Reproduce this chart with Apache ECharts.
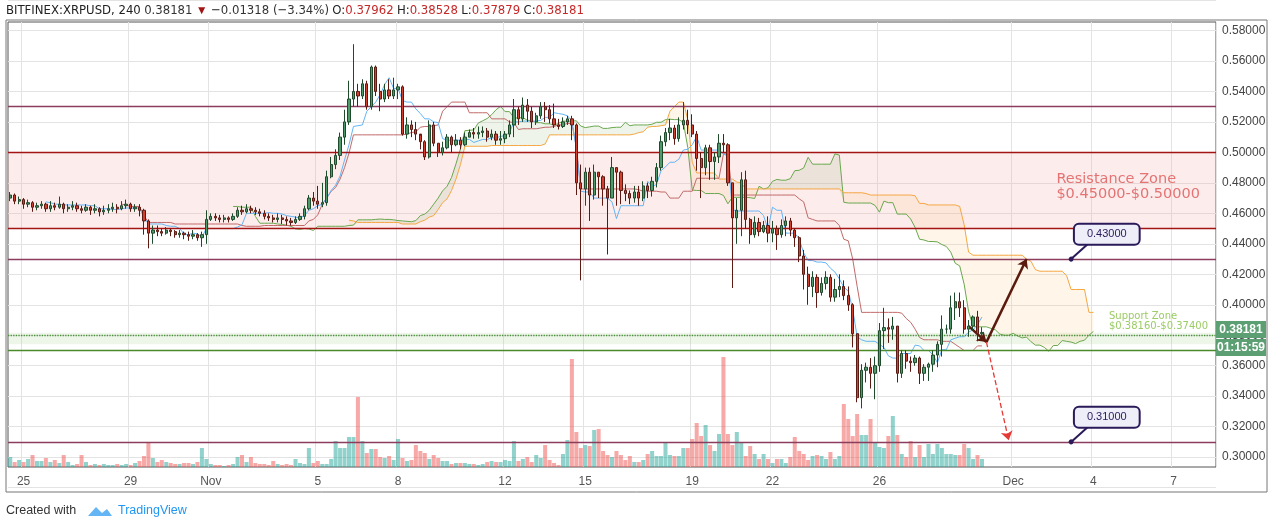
<!DOCTYPE html>
<html>
<head>
<meta charset="utf-8">
<script src="https://cdn.jsdelivr.net/npm/echarts@6/dist/echarts.min.js"></script>
<style>
  html, body { margin: 0; padding: 0; background: #fff; }
  #chart { width: 1274px; height: 529px; }
</style>
</head>
<body>
<div id="chart"></div>
<script>
// 4h candles, BITFINEX:XRPUSD, first bar Oct 24 12:00 UTC
var startTime = Date.UTC(2018, 9, 24, 12);
var totalBars = 271;
var shownDays = ['10-25', '10-29', '11-1', '11-5', '11-8', '11-12', '11-15', '11-19', '11-22', '11-26', '12-1', '12-4', '12-7'];
var firstOpen = 0.470;

var closes = [
  0.472, 0.468, 0.469,
  0.466, 0.467, 0.464, 0.465, 0.466, 0.463,
  0.465, 0.464, 0.466, 0.463, 0.464, 0.465,
  0.463, 0.462, 0.464, 0.462, 0.463, 0.461,
  0.462, 0.463, 0.464, 0.463, 0.465, 0.466,
  0.463, 0.464, 0.462, 0.455, 0.447, 0.449,
  0.448, 0.447, 0.449, 0.448, 0.446, 0.447,
  0.446, 0.445, 0.446, 0.444, 0.446, 0.456,
  0.458, 0.457, 0.456, 0.457, 0.456, 0.458,
  0.462, 0.461, 0.463, 0.462, 0.461, 0.460,
  0.458, 0.457, 0.456, 0.457, 0.456, 0.455,
  0.454, 0.456, 0.458, 0.463, 0.470, 0.468,
  0.466, 0.467, 0.484, 0.492, 0.498, 0.510,
  0.520, 0.535, 0.540, 0.537, 0.545, 0.530,
  0.556, 0.540, 0.535, 0.541, 0.537, 0.541,
  0.543, 0.512, 0.518, 0.515, 0.512, 0.507,
  0.497, 0.518, 0.506, 0.500, 0.503, 0.510,
  0.505, 0.508, 0.505, 0.510, 0.513, 0.512,
  0.513, 0.514, 0.510, 0.512, 0.508, 0.509,
  0.512, 0.518, 0.528, 0.522, 0.531, 0.527,
  0.520, 0.524, 0.530, 0.528, 0.522, 0.518,
  0.517, 0.520, 0.522, 0.518, 0.480, 0.476,
  0.487, 0.472, 0.487, 0.484, 0.476, 0.470,
  0.490, 0.487, 0.475, 0.473, 0.470, 0.474,
  0.470, 0.478, 0.475, 0.481, 0.490, 0.507,
  0.513, 0.516, 0.509, 0.518, 0.521, 0.518,
  0.512, 0.496, 0.490, 0.503, 0.494, 0.497,
  0.506, 0.505, 0.480, 0.457, 0.462, 0.482,
  0.456, 0.446, 0.454, 0.448, 0.452, 0.447,
  0.450, 0.446, 0.452, 0.455, 0.449, 0.444,
  0.432, 0.420, 0.412, 0.418, 0.408, 0.414,
  0.418, 0.405, 0.410, 0.412, 0.406, 0.400,
  0.381, 0.339, 0.357, 0.359, 0.355, 0.360,
  0.383, 0.385, 0.384, 0.386, 0.355, 0.368,
  0.363, 0.362, 0.365, 0.355, 0.359, 0.361,
  0.367, 0.374, 0.384, 0.384, 0.398, 0.402,
  0.398, 0.384, 0.386, 0.392, 0.381, 0.38181
];

var highs = [
  0.474, 0.473, 0.471,
  0.470, 0.469, 0.468, 0.467, 0.468, 0.467,
  0.468, 0.467, 0.471, 0.467, 0.466, 0.468,
  0.467, 0.465, 0.466, 0.465, 0.466, 0.464,
  0.465, 0.466, 0.467, 0.466, 0.468, 0.469,
  0.467, 0.466, 0.466, 0.463, 0.456, 0.452,
  0.452, 0.450, 0.451, 0.450, 0.449, 0.449,
  0.448, 0.448, 0.449, 0.447, 0.448, 0.462,
  0.460, 0.460, 0.459, 0.459, 0.458, 0.460,
  0.464, 0.465, 0.466, 0.465, 0.464, 0.463,
  0.462, 0.460, 0.459, 0.460, 0.459, 0.458,
  0.457, 0.458, 0.460, 0.465, 0.472, 0.474,
  0.478, 0.480, 0.488, 0.497, 0.502, 0.513,
  0.528, 0.547, 0.571, 0.545, 0.548, 0.547,
  0.557, 0.557, 0.545, 0.545, 0.548, 0.549,
  0.545, 0.544, 0.523, 0.521, 0.520, 0.511,
  0.508, 0.521, 0.520, 0.506, 0.507, 0.512,
  0.511, 0.512, 0.510, 0.513, 0.515, 0.516,
  0.517, 0.517, 0.516, 0.515, 0.514, 0.514,
  0.514, 0.521, 0.535, 0.530, 0.536, 0.535,
  0.530, 0.526, 0.533, 0.533, 0.531, 0.532,
  0.522, 0.523, 0.524, 0.524, 0.519, 0.492,
  0.490, 0.490, 0.492, 0.487, 0.485, 0.478,
  0.497, 0.490, 0.488, 0.479, 0.475, 0.478,
  0.478, 0.481, 0.480, 0.484, 0.493, 0.511,
  0.516, 0.522, 0.518, 0.523, 0.533, 0.528,
  0.525, 0.514, 0.500, 0.505, 0.505, 0.500,
  0.512, 0.512, 0.506, 0.480, 0.470, 0.487,
  0.488, 0.457, 0.458, 0.457, 0.455, 0.458,
  0.455, 0.452, 0.456, 0.458, 0.457, 0.450,
  0.445, 0.436, 0.425, 0.422, 0.420, 0.418,
  0.422, 0.420, 0.417, 0.420, 0.416, 0.412,
  0.401, 0.381, 0.361, 0.362, 0.365, 0.366,
  0.388, 0.398, 0.391, 0.392, 0.386, 0.370,
  0.370, 0.366, 0.367, 0.366, 0.361, 0.362,
  0.370, 0.376, 0.393, 0.387, 0.406, 0.408,
  0.408, 0.403, 0.390, 0.393, 0.396, 0.38528
];

var lows = [
  0.468, 0.466, 0.466,
  0.463, 0.464, 0.461, 0.462, 0.463, 0.461,
  0.461, 0.462, 0.463, 0.460, 0.461, 0.462,
  0.461, 0.460, 0.461, 0.459, 0.460, 0.458,
  0.459, 0.460, 0.461, 0.460, 0.462, 0.463,
  0.461, 0.461, 0.458, 0.446, 0.437, 0.440,
  0.445, 0.445, 0.446, 0.445, 0.444, 0.444,
  0.443, 0.442, 0.443, 0.442, 0.438, 0.440,
  0.455, 0.455, 0.454, 0.454, 0.454, 0.455,
  0.457, 0.459, 0.460, 0.460, 0.459, 0.458,
  0.456, 0.455, 0.454, 0.454, 0.453, 0.452,
  0.452, 0.453, 0.455, 0.456, 0.462, 0.465,
  0.463, 0.464, 0.465, 0.483, 0.489, 0.495,
  0.505, 0.518, 0.530, 0.530, 0.535, 0.528,
  0.528, 0.537, 0.527, 0.533, 0.535, 0.535,
  0.535, 0.511, 0.509, 0.510, 0.508, 0.502,
  0.495, 0.496, 0.504, 0.497, 0.498, 0.502,
  0.500, 0.504, 0.502, 0.504, 0.510, 0.509,
  0.509, 0.510, 0.507, 0.508, 0.505, 0.505,
  0.506, 0.510, 0.510, 0.518, 0.520, 0.520,
  0.516, 0.518, 0.522, 0.520, 0.519, 0.516,
  0.515, 0.516, 0.518, 0.508, 0.472, 0.416,
  0.465, 0.455, 0.469, 0.470, 0.465, 0.433,
  0.470, 0.465, 0.466, 0.468, 0.466, 0.467,
  0.465, 0.468, 0.470, 0.471, 0.477, 0.488,
  0.504, 0.508, 0.505, 0.507, 0.515, 0.512,
  0.510, 0.488, 0.470, 0.485, 0.482, 0.482,
  0.493, 0.500, 0.478, 0.411, 0.440, 0.445,
  0.450, 0.440, 0.444, 0.445, 0.447, 0.441,
  0.441, 0.436, 0.444, 0.445, 0.445, 0.438,
  0.428, 0.410, 0.400, 0.405, 0.398, 0.406,
  0.410, 0.402, 0.402, 0.405, 0.403, 0.396,
  0.372, 0.336, 0.332, 0.349, 0.345, 0.338,
  0.356, 0.371, 0.375, 0.377, 0.349, 0.352,
  0.358, 0.356, 0.360, 0.348, 0.350, 0.350,
  0.356, 0.359, 0.366, 0.381, 0.381, 0.390,
  0.392, 0.381, 0.379, 0.383, 0.376, 0.37879
];

var volumes = [
  10, 5, 7, 5, 8, 12, 6, 6, 9, 5,
  7, 4, 12, 5, 2, 3, 12, 5, 2, 3,
  2, 3, 2, 2, 3, 2, 3, 2, 4, 6,
  11, 25, 9, 5, 7, 5, 4, 3, 3, 4,
  4, 3, 5, 19, 8, 3, 2, 2, 1, 2,
  3, 10, 12, 5, 10, 4, 3, 3, 2, 6,
  3, 2, 3, 2, 8, 4, 3, 19, 4, 6,
  3, 3, 8, 26, 19, 19, 30, 30, 70, 26,
  14, 18, 18, 10, 9, 11, 7, 28, 9, 6,
  7, 22, 16, 14, 8, 12, 9, 6, 6, 3,
  4, 4, 4, 3, 3, 2, 3, 5,
  6, 5, 5, 7, 6, 26, 6, 8, 10, 5,
  12, 9, 22, 7, 4, 2, 13, 27, 108, 35,
  19, 22, 21, 37, 38, 16, 12, 10, 16, 12,
  7, 11, 5, 5, 7, 13, 16, 11, 11, 25,
  12, 11, 11, 19, 19, 28, 44, 31, 42, 22,
  16, 33, 110, 33, 22, 35, 24, 11, 21, 13,
  8, 13, 8, 4, 8, 8, 4, 10, 30, 16,
  13, 7, 11, 12, 11, 8, 15, 8, 11, 63,
  48, 31, 53, 32, 32, 48, 24, 20, 19, 31,
  51, 32, 13, 10, 26, 10, 22, 10, 23, 13,
  23, 19, 13, 13, 12, 12, 23, 19, 8, 12, 8
];

var upColor = '#4e9a6b', upBorder = '#1f4a2c';
var downColor = '#d2402f', downBorder = '#5c1a12';

// categories (one per 4h bar, incl. empty future bars)
var months = ['Jan','Feb','Mar','Apr','May','Jun','Jul','Aug','Sep','Oct','Nov','Dec'];
var cats = [], catKeys = [];
for (var i = 0; i < totalBars; i++) {
    var d = new Date(startTime + i * 4 * 3600 * 1000);
    var txt = '', key = '';
    if (d.getUTCHours() === 0) {
        txt = d.getUTCDate() === 1 ? months[d.getUTCMonth()] : String(d.getUTCDate());
        key = (d.getUTCMonth() + 1) + '-' + d.getUTCDate();
    }
    cats.push(txt);
    catKeys.push(key);
}
function showTick(idx) {
    return catKeys[idx] !== '' && shownDays.indexOf(catKeys[idx]) >= 0;
}

var candles = [], volData = [];
for (var i = 0; i < closes.length; i++) {
    var o = i === 0 ? firstOpen : closes[i - 1];
    candles.push([o, closes[i], lows[i], highs[i]]);
    var up = closes[i] >= o;
    volData.push({value: volumes[i], itemStyle: {color: up ? 'rgba(38,166,154,0.5)' : 'rgba(239,83,80,0.5)'}});
}

// ichimoku (9, 26, 52, displacement 26)
function midRange(end, len) {
    if (end - len + 1 < 0) return null;
    var hi = -Infinity, lo = Infinity;
    for (var k = end - len + 1; k <= end; k++) {
        hi = Math.max(hi, highs[k]);
        lo = Math.min(lo, lows[k]);
    }
    return (hi + lo) / 2;
}
var tenkan = [], kijun = [], spanA = [], spanB = [];
for (var i = 0; i < totalBars; i++) {
    tenkan.push(i < closes.length ? midRange(i, 9) : null);
    kijun.push(i < closes.length ? midRange(i, 26) : null);
    var src = i - 25;
    var a = null, b = null;
    if (src >= 0 && src < closes.length) {
        var t = midRange(src, 9), kj = midRange(src, 26);
        a = (t !== null && kj !== null) ? (t + kj) / 2 : null;
        b = midRange(src, 52);
    }
    spanA.push(a);
    spanB.push(b);
}
var cloudBase = [], cloudGreen = [], cloudOrange = [];
for (var i = 0; i < totalBars; i++) {
    var a = spanA[i], b = spanB[i];
    if (a === null || b === null) {
        cloudBase.push('-'); cloudGreen.push('-'); cloudOrange.push('-');
    } else {
        cloudBase.push(Math.min(a, b));
        cloudGreen.push(a >= b ? a - b : 0);
        cloudOrange.push(b > a ? b - a : 0);
    }
}
function dash(arr) { return arr.map(function(v) { return v === null ? '-' : v; }); }

var lineCol = '#8c3c5c';
var hLine = function(y, color, type) {
    return {yAxis: y, lineStyle: {color: color, width: 1.3, type: type || 'solid'}};
};
var calloutStyle = {color: '#2a1a5a', width: 2, type: 'solid'};

var chart = echarts.init(document.getElementById('chart'), null, {renderer: 'canvas'});
var option = {
    animation: false,
    backgroundColor: '#fff',
    textStyle: {fontFamily: 'Liberation Sans, DejaVu Sans, sans-serif'},
    grid: [
        {left: 8, right: 58, top: -2.6, bottom: 41.4},
        {left: 8, right: 58, top: 22, bottom: 62, show: true, borderColor: '#555', borderWidth: 1}
    ],
    xAxis: [
        {type: 'category', gridIndex: 0, data: cats, boundaryGap: true,
         axisLine: {show: false}, axisTick: {show: false}, axisLabel: {show: false}, splitLine: {show: false}},
        {type: 'category', gridIndex: 1, data: cats, boundaryGap: true,
         axisLine: {show: false}, axisTick: {show: false},
         axisLabel: {interval: function(idx) { return showTick(idx); }, color: '#555', fontSize: 12, margin: 9},
         splitLine: {show: true, interval: function(idx) { return showTick(idx); }, lineStyle: {color: '#e3e3e3'}}}
    ],
    yAxis: [
        {type: 'value', gridIndex: 0, position: 'right', min: 0.28, max: 0.60, interval: 0.02,
         axisLine: {show: false}, axisTick: {show: false},
         axisLabel: {color: '#444', fontSize: 12, margin: 6,
             formatter: function(v) { return (v < 0.29 || v > 0.59) ? '' : v.toFixed(5); }},
         splitLine: {lineStyle: {color: '#e3e3e3'}}},
        {type: 'value', gridIndex: 1, min: 0, max: 445, show: false, splitLine: {show: false}}
    ],
    series: [
        {type: 'bar', xAxisIndex: 1, yAxisIndex: 1, data: volData, barWidth: '90%', z: 1},
        {type: 'line', name: 'base', data: cloudBase, stack: 'g', symbol: 'none', lineStyle: {opacity: 0}, z: 2},
        {type: 'line', name: 'green', data: cloudGreen, stack: 'g', symbol: 'none', lineStyle: {opacity: 0},
         areaStyle: {color: 'rgba(120,170,90,0.18)'}, z: 2},
        {type: 'line', name: 'base2', data: cloudBase, stack: 'o', symbol: 'none', lineStyle: {opacity: 0}, z: 2},
        {type: 'line', name: 'orange', data: cloudOrange, stack: 'o', symbol: 'none', lineStyle: {opacity: 0},
         areaStyle: {color: 'rgba(255,190,110,0.22)'}, z: 2},
        {type: 'line', name: 'Lead 1', data: dash(spanA), symbol: 'none', lineStyle: {color: '#6aa84f', width: 1}, z: 3},
        {type: 'line', name: 'Lead 2', data: dash(spanB), symbol: 'none', lineStyle: {color: '#f5a742', width: 1}, z: 3},
        {type: 'line', name: 'Base', data: dash(kijun), symbol: 'none', lineStyle: {color: '#c26a6a', width: 1}, z: 3},
        {type: 'line', name: 'Conversion', data: dash(tenkan), symbol: 'none', lineStyle: {color: '#64b5f6', width: 1}, z: 3},
        {type: 'candlestick', name: 'XRPUSD', data: candles, barWidth: '62%', z: 5,
         itemStyle: {color: upColor, color0: downColor, borderColor: upBorder, borderColor0: downBorder, borderWidth: 1},
         markArea: {silent: true, z: 0, data: [
             [{yAxis: 0.45, itemStyle: {color: 'rgba(240,170,170,0.22)'}}, {yAxis: 0.50}],
             [{yAxis: 0.374, itemStyle: {color: 'rgba(170,210,150,0.2)'}}, {yAxis: 0.3816}]
         ]},
         markLine: {silent: true, symbol: 'none', label: {show: false}, z: 4, data: [
             hLine(0.5335, lineCol), hLine(0.50, '#a31515'), hLine(0.45, '#a31515'),
             hLine(0.43, lineCol), hLine(0.3816, '#4a8f3a', 'dotted'), hLine(0.374, '#4a8a2a'),
             hLine(0.31, lineCol)
         ]}},
        // drawn arrows
        {type: 'line', data: [], z: 6,
         markLine: {silent: true, label: {show: false}, symbol: ['none', 'arrow'], symbolSize: 9, data: [
             [{coord: [215, 0.386], lineStyle: {color: '#5b1a0e', width: 2.5, type: 'solid'}}, {coord: [219, 0.3755]}],
             [{coord: [219, 0.3755], lineStyle: {color: '#5b1a0e', width: 2.5, type: 'solid'}}, {coord: [228, 0.430]}],
             [{coord: [219, 0.3755], lineStyle: {color: '#e53935', width: 1.3, type: 'dashed'}}, {coord: [224, 0.311]}]
         ]}},
        // price callouts
        {type: 'line', data: [], z: 6,
         markLine: {silent: true, label: {show: false}, symbol: ['circle', 'none'], symbolSize: 5, data: [
             [{coord: [238, 0.430], lineStyle: calloutStyle}, {coord: [242, 0.4405]}],
             [{coord: [238, 0.310], lineStyle: calloutStyle}, {coord: [242, 0.3205]}]
         ]},
         markPoint: {silent: true, symbol: 'rect', symbolSize: 1, itemStyle: {color: 'rgba(0,0,0,0)'},
             label: {show: true, color: '#2a1a5a', fontSize: 11, backgroundColor: '#eeeef8', borderColor: '#2a1a5a',
                 borderWidth: 2, borderRadius: 4, padding: [4, 12, 4, 12]},
             data: [
                 {coord: [246, 0.4462], value: '0.43000', label: {formatter: '0.43000'}},
                 {coord: [246, 0.3262], value: '0.31000', label: {formatter: '0.31000'}}
             ]}}
    ],
    graphic: [
        {type: 'rect', shape: {x: 6, y: 20, width: 1261, height: 472}, style: {fill: 'none', stroke: '#777', lineWidth: 1}, z: 10},
        {type: 'text', left: 6, top: 4, z: 10, style: {
            text: '{b|BITFINEX:XRPUSD, 240} {n|0.38181} {r|▼} {n|−0.01318 (−3.34%)} {b|O:}{v|0.37962} {b|H:}{v|0.38528} {b|L:}{v|0.37879} {b|C:}{v|0.38181}',
            rich: {
                b: {fontSize: 13, fill: '#222', fontFamily: 'Liberation Sans Narrow, DejaVu Sans Condensed, sans-serif'},
                n: {fontSize: 13, fill: '#333', fontFamily: 'Liberation Sans Narrow, DejaVu Sans Condensed, sans-serif'},
                r: {fontSize: 12, fill: '#a31515'},
                v: {fontSize: 13, fill: '#c62828', fontFamily: 'Liberation Sans Narrow, DejaVu Sans Condensed, sans-serif'}
            }}},
        {type: 'text', right: 74, top: 172, z: 10, style: {text: 'Resistance Zone\n$0.45000-$0.50000',
            align: 'center', fill: '#e57373', fontSize: 14.5, lineHeight: 15, fontFamily: 'DejaVu Sans'}},
        {type: 'text', right: 66, top: 311, z: 10, style: {text: 'Support Zone\n$0.38160-$0.37400',
            align: 'center', fill: '#9ccc65', fontSize: 10, lineHeight: 10, fontFamily: 'DejaVu Sans'}},
        {type: 'rect', shape: {x: 1216, y: 321, width: 50, height: 17}, style: {fill: '#5c9f72'}, z: 10},
        {type: 'text', x: 1241, y: 330, z: 11, style: {text: '0.38181', fill: '#fff', fontSize: 12, fontWeight: 'bold',
            align: 'center', verticalAlign: 'middle'}},
        {type: 'rect', shape: {x: 1216, y: 339, width: 50, height: 17}, style: {fill: '#5c9f72'}, z: 10},
        {type: 'text', x: 1241, y: 348, z: 11, style: {text: '01:15:59', fill: '#fff', fontSize: 12, fontWeight: 'bold',
            align: 'center', verticalAlign: 'middle'}},
        {type: 'text', left: 6, top: 504, z: 10, style: {text: 'Created with', fill: '#333', fontSize: 12.5}},
        {type: 'text', left: 118, top: 504, z: 10, style: {text: 'TradingView', fill: '#2196f3', fontSize: 12.5}},
        {type: 'polygon', shape: {points: [[88, 516], [96, 507], [102, 513], [107, 509], [112, 516]]}, style: {fill: '#64b5f6'}, z: 10}
    ]
};
chart.setOption(option);
</script>
</body>
</html>
